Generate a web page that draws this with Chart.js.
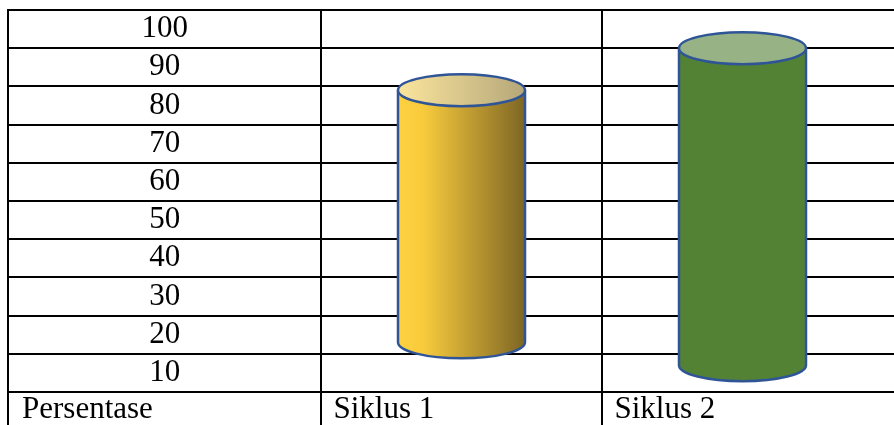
<!DOCTYPE html>
<html>
<head>
<meta charset="utf-8">
<script src="https://cdn.jsdelivr.net/npm/chart.js@4.4.0/dist/chart.umd.min.js"></script>
<style>
  html, body { margin: 0; padding: 0; background: #fff; overflow: hidden; }
  canvas { display: block; }
</style>
</head>
<body>
<canvas id="chart" width="894" height="425"></canvas>
<script>
// Values
const siklus = ['Siklus 1', 'Siklus 2'];
const persentase = [84, 95];   // top of each cylinder
const dasar = [18, 12];        // bottom of each cylinder
const nilaiSumbu = [10, 20, 30, 40, 50, 60, 70, 80, 90, 100];
const judulKolom = 'Persentase';

const FONT = { family: "'Liberation Serif', 'Times New Roman', serif", size: 31 };
const LINE = '#000';
const OUTLINE = '#2F5597';

// Fill styles per cylinder (gradient stops, left to right)
const gaya = [
    { body: [[0, '#FDD13F'], [0.2, '#F8CB3D'], [1, '#7E6624']], top: [[0, '#FBE59D'], [1, '#B5A779']] },
    { body: [[0, '#548235'], [1, '#548235']], top: [[0, '#97B386'], [1, '#97B386']] }
];

// Draw each bar as a cylinder
const cylinderPlugin = {
    id: 'cylinders',
    afterDatasetsDraw(chart) {
        const ctx = chart.ctx;
        const meta = chart.getDatasetMeta(0);
        meta.data.forEach((bar, i) => {
            const { x, y, base, width } = bar.getProps(['x', 'y', 'base', 'width'], true);
            const rx = width / 2;
            const ry = width * 0.126;
            const grad = (stops) => {
                const lg = ctx.createLinearGradient(x - rx, 0, x + rx, 0);
                stops.forEach(([o, c]) => lg.addColorStop(o, c));
                return lg;
            };
            ctx.save();
            ctx.lineWidth = 2.5;
            ctx.strokeStyle = OUTLINE;

            // body + bottom rim
            ctx.beginPath();
            ctx.moveTo(x - rx, y);
            ctx.lineTo(x - rx, base);
            ctx.ellipse(x, base, rx, ry, 0, Math.PI, 0, true);
            ctx.lineTo(x + rx, y);
            ctx.fillStyle = grad(gaya[i].body);
            ctx.fill();
            ctx.stroke();

            // top face
            ctx.beginPath();
            ctx.ellipse(x, y, rx, ry, 0, 0, Math.PI * 2);
            ctx.fillStyle = grad(gaya[i].top);
            ctx.fill();
            ctx.stroke();
            ctx.restore();
        });
    }
};

// Left edge of the table and the header cell of the first column
const tablePlugin = {
    id: 'tableFrame',
    afterDraw(chart) {
        const ctx = chart.ctx;
        const yScale = chart.scales.y;
        const xScale = chart.scales.x;
        const area = chart.chartArea;
        ctx.save();
        ctx.strokeStyle = LINE;
        ctx.lineWidth = 2;
        ctx.beginPath();
        ctx.moveTo(yScale.left, area.top - 1);
        ctx.lineTo(yScale.left, chart.height);
        ctx.stroke();

        const xt = xScale.options;
        const mid = xScale.top + xt.grid.tickLength + xt.ticks.padding + FONT.size * 1.2 / 2;
        ctx.fillStyle = LINE;
        ctx.font = `${FONT.size}px ${FONT.family}`;
        ctx.textAlign = 'left';
        ctx.textBaseline = 'middle';
        ctx.fillText(judulKolom, yScale.left + 14, mid);
        ctx.restore();
    }
};

const setTicks = (scale) => { scale.ticks = nilaiSumbu.map(v => ({ value: v })); };
const fixWidth = (w) => (scale) => {
    scale.width = w;
    scale.paddingTop = 0;
    scale.paddingBottom = 0;
};

new Chart(document.getElementById('chart'), {
    type: 'bar',
    data: {
        labels: siklus,
        datasets: [{
            label: judulKolom,
            data: persentase.map((v, i) => [dasar[i], v]),
            backgroundColor: 'rgba(0,0,0,0)',
            borderWidth: 0,
            barPercentage: 0.452,
            categoryPercentage: 1
        }]
    },
    plugins: [cylinderPlugin, tablePlugin],
    options: {
        responsive: false,
        animation: false,
        events: [],
        layout: { padding: { left: 8, top: 10, right: 0, bottom: 0 } },
        plugins: { legend: { display: false }, tooltip: { enabled: false } },
        scales: {
            x: {
                offset: true,
                grid: {
                    offset: true,
                    color: (c) => c.type === 'tick' ? LINE : 'rgba(0,0,0,0)',
                    lineWidth: 2,
                    tickLength: 40
                },
                border: { display: false },
                ticks: {
                    font: FONT,
                    color: LINE,
                    align: 'start',
                    labelOffset: -128,
                    padding: -41,
                    maxRotation: 0,
                    autoSkip: false
                },
                afterFit: (scale) => {
                    scale.height = 33;
                    scale.paddingLeft = 0;
                    scale.paddingRight = 0;
                }
            },
            y: {
                position: 'left',
                min: 5,
                max: 105,
                afterBuildTicks: setTicks,
                grid: { offset: true, color: LINE, lineWidth: 2, tickLength: 313 },
                border: { display: false },
                ticks: { font: FONT, color: LINE, crossAlign: 'center', padding: -180 },
                afterFit: fixWidth(313)
            },
            yR: {
                position: 'right',
                min: 5,
                max: 105,
                afterBuildTicks: setTicks,
                grid: { offset: true, color: LINE, lineWidth: 2, tickLength: 11, drawOnChartArea: false },
                border: { display: false },
                ticks: { display: false },
                afterFit: fixWidth(11)
            }
        }
    }
});
</script>
</body>
</html>
